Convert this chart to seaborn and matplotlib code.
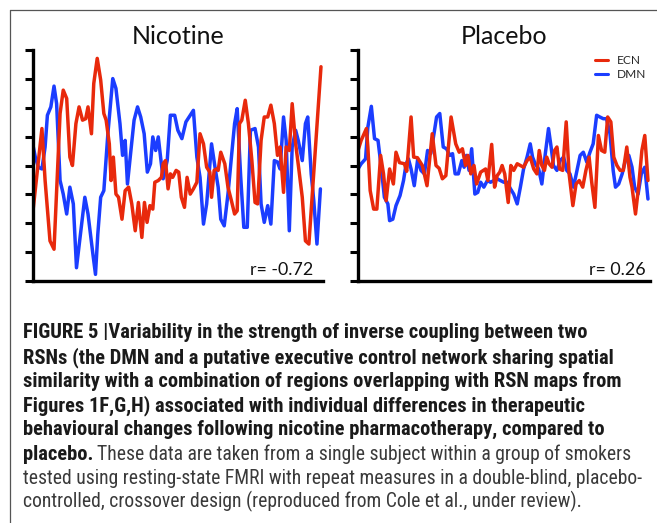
import numpy as np
import pandas as pd
import matplotlib
matplotlib.use("Agg")
import matplotlib.pyplot as plt
import seaborn as sns
from matplotlib.lines import Line2D
from matplotlib import font_manager as fm

# ---------------- data (arbitrary units) ----------------
nic_ecn_t = [0, 3.1, 4.2, 5.9, 7.3, 9.4, 10.5, 11.7, 12.8, 13.7, 14.9, 16.0, 17.2, 18.3, 19.1, 20.3,
             21.1, 22.3, 23.5, 24.6, 25.4, 26.5, 27.1, 27.9, 28.8, 29.7, 30.9, 32.0, 33.2, 34.3, 35.5,
             36.6, 37.8, 38.7, 39.6, 40.6, 41.6, 42.3, 43.5, 44.6, 45.2, 46.0, 46.9, 47.7, 48.5, 49.7,
             50.6, 51.5, 52.6, 53.5, 54.6, 55.7, 56.9, 58.0, 59.2, 60.3, 61.4, 62.0, 62.9, 63.7, 64.3,
             65.2, 66.6, 67.7, 68.9, 70.0, 70.9, 71.7, 72.5, 73.7, 74.8, 76.0, 77.1, 78.0, 79.2, 80.3,
             81.5, 82.6, 83.8, 84.9, 85.8, 87.0, 87.9, 89.0, 90.0, 91.2, 92.3, 93.5, 94.6, 95.8, 100]
nic_ecn_v = [-1.57, 1.28, -0.52, -2.61, -2.90, 1.80, 2.61, 2.32, 0.29, 0.00, 1.45, 2.03, 1.57, 1.62, 2.03, 1.10,
             2.84, 3.71, 2.96, 1.80, 1.57, 0.75, -0.52, 0.29, -0.99, -1.10, -1.86, -0.87, -0.75, -1.33, -2.26,
             -1.28, -2.49, -1.28, -1.97, -1.39, -1.51, -0.58, -0.52, -0.41, 0.06, 0.17, -0.81, -0.29, -0.41, -0.17,
             -0.23, -1.10, -1.45, -0.41, -0.99, -0.81, -0.58, 1.10, 0.75, -0.06, -0.23, -1.10, -0.17, -0.12, -0.17,
             0.46, 0.06, -0.75, -1.22, -1.68, -1.57, 1.45, 1.57, 2.26, 1.45, 0.17, -1.28, -1.33, 0.87, 1.68,
             1.68, 2.09, 1.45, 0.35, 0.64, -0.93, 0.64, 0.52, 2.14, 0.75, -0.12, -1.10, -2.61, -2.72, 3.42]

nic_dmn_t = [0, 0.8, 1.9, 3.1, 4.2, 5.0, 6.2, 7.3, 8.2, 9.4, 10.5, 11.7, 12.8, 14.0, 15.1, 16.2, 18.0,
             19.1, 20.8, 21.7, 22.5, 23.5, 24.6, 26.0, 27.7, 28.8, 30.2, 31.1, 32.0, 32.8, 34.0, 35.1,
             36.3, 37.4, 38.6, 39.7, 40.8, 41.6, 42.6, 43.5, 44.3, 45.2, 46.6, 47.7, 49.2, 50.3, 51.7,
             53.1, 54.6, 55.7, 56.9, 58.0, 59.2, 60.3, 62.0, 63.2, 64.3, 65.2, 66.4, 67.7, 68.9, 70.0,
             70.9, 72.1, 73.2, 74.4, 75.5, 77.1, 78.3, 79.2, 80.3, 81.5, 82.6, 83.8, 84.9, 85.8, 87.0,
             87.9, 89.0, 90.0, 91.2, 92.1, 93.5, 94.6, 95.4, 96.6, 97.5, 98.6, 99.8]
nic_dmn_v = [0.70, 0.29, -0.06, -0.12, 0.64, 1.74, 2.03, 2.75, 2.14, -0.52, -0.99, -1.68, -0.75, -1.33, -3.54, -2.61, -1.10,
             -1.68, -3.07, -3.77, -2.38, -1.10, -0.87, 1.10, 3.01, 2.67, 1.45, 0.35, 0.87, -0.64, 0.52, 1.57,
             2.03, 1.68, 1.10, -0.23, 0.06, 0.99, 0.52, 0.99, 0.29, -0.46, 0.17, 1.74, 1.74, 1.22, 0.93,
             1.51, 1.74, 1.91, 0.29, -0.41, -2.03, -1.33, 0.75, -0.06, -0.75, -1.86, -2.09, -0.99, 0.29, 1.45,
             1.97, -0.35, -2.14, -2.14, 1.22, 1.28, 0.64, -1.33, -1.97, -1.39, -2.03, 0.17, 0.12, -0.12, 1.68,
             0.87, -2.26, 0.64, 1.22, 0.87, 0.17, 1.45, 1.68, -0.29, -1.22, -2.72, -0.81]

pla_ecn_t = [0, 1.1, 2.9, 3.4, 4.2, 5.4, 6.5, 7.8, 8.8, 9.7, 10.9, 12.2, 13.1, 14.3, 16.0, 16.8, 18.3,
             19.2, 20.5, 22.2, 23.8, 25.6, 26.9, 28.0, 29.1, 30.3, 32.1, 33.7, 34.9, 36.0, 37.1, 37.9,
             38.9, 40.0, 40.9, 42.3, 44.0, 44.8, 46.1, 47.1, 48.0, 48.9, 49.7, 50.6, 51.8, 52.7, 53.7,
             54.9, 56.0, 57.1, 58.3, 59.4, 60.6, 61.7, 62.5, 63.4, 64.3, 65.1, 65.9, 66.9, 67.8, 68.6,
             69.5, 70.6, 71.8, 72.8, 74.1, 75.2, 76.3, 77.5, 78.6, 79.7, 80.6, 81.7, 82.9, 84.0, 85.1,
             86.1, 87.2, 88.2, 89.3, 90.4, 91.5, 92.7, 93.8, 94.5, 95.7, 96.8, 97.9, 98.9, 100]
pla_ecn_v = [0.52, 0.87, 1.28, 0.64, -0.87, -1.51, -1.51, 0.35, -0.29, -1.22, -0.12, -0.64, 0.46, 0.10, 0.06, -0.20, 1.68,
             0.29, 0.27, 0.00, -0.70, 1.10, 0.00, -0.10, -0.46, -0.35, 1.68, 0.75, 0.46, 0.58, 0.00, 0.35,
             -0.29, 0.00, -0.64, -0.23, -0.12, -0.52, 0.73, -0.75, -0.35, -0.23, 0.00, -0.29, -1.28, 0.00, -0.17,
             0.06, 0.00, -0.06, 0.17, 0.29, -0.12, -0.29, 0.52, 0.00, -0.17, 0.29, 0.06, -0.06, 0.52, 0.64,
             -0.12, -0.17, 1.51, -0.29, -1.39, -0.64, -0.52, -0.75, -0.17, 0.29, -0.58, -1.45, 1.04, 0.52, 0.46,
             1.68, 1.51, 0.29, 0.00, -0.17, -0.17, 0.64, -0.41, -0.75, -1.68, -0.70, 0.52, 1.04, -0.52]

pla_dmn_t = [0, 1.1, 2.6, 3.4, 4.6, 5.7, 6.9, 8.0, 9.1, 10.3, 10.9, 12.0, 13.1, 14.5, 15.7, 16.6, 17.4,
             18.3, 19.4, 20.6, 21.7, 22.9, 24.0, 25.1, 26.3, 27.1, 28.2, 29.4, 30.5, 31.7, 32.6, 33.5,
             34.6, 35.8, 36.6, 37.4, 38.3, 39.2, 40.3, 41.3, 42.3, 43.4, 44.6, 45.7, 46.9, 48.0, 49.1,
             50.3, 51.4, 52.6, 53.7, 54.9, 56.0, 57.1, 58.3, 59.4, 60.2, 61.1, 62.3, 63.4, 64.6, 65.7,
             66.6, 67.4, 68.6, 69.7, 70.9, 72.0, 73.1, 74.3, 75.4, 76.6, 77.7, 78.9, 80.0, 81.1, 82.3,
             83.4, 84.6, 85.7, 86.9, 88.0, 88.8, 89.9, 91.1, 92.2, 93.4, 94.5, 95.4, 96.6, 97.7, 98.9, 100]
pla_dmn_v = [-0.12, 0.06, 0.23, 1.33, 2.05, 0.93, 0.87, -0.06, -1.10, -1.33, -1.91, -1.86, -1.39, -1.04, -0.52, 0.06, 0.23,
             -0.12, -0.70, 0.23, -0.17, -0.29, 0.52, 0.41, 1.16, 1.68, 1.80, 0.64, 0.58, 0.35, 0.41, -0.29,
             -0.29, 0.17, -0.06, 0.35, -0.17, 0.58, -0.99, -0.93, -0.58, -0.75, -0.52, -0.58, -0.52, -0.46, -0.52,
             -0.58, -0.58, -0.81, -0.99, -1.33, -0.75, -0.12, 0.29, 0.75, 0.29, 0.06, -0.12, -0.64, 0.41, 1.28,
             0.64, 0.00, -0.17, 0.17, 0.29, -0.17, -0.29, -0.75, -0.23, 0.35, 0.46, 0.12, 0.46, 0.75, 1.74,
             1.68, 1.62, 1.62, 1.10, -0.17, -0.75, -0.64, -0.29, 0.17, 0.35, -0.06, -0.75, -0.99, -0.29, -0.06, -1.16]

panel_titles = ["Nicotine", "Placebo"]
r_labels = ["r= -0.72", "r= 0.26"]
series_names = ["ECN", "DMN"]
y_ticks = [-4, -3, -2, -1, 0, 1, 2, 3, 4]

caption_bold = [
    "FIGURE 5 |Variability in the strength of inverse coupling between two",
    "RSNs (the DMN and a putative executive control network sharing spatial",
    "similarity with a combination of regions overlapping with RSN maps from",
    "Figures 1F,G,H) associated with individual differences in therapeutic",
    "behavioural changes following nicotine pharmacotherapy, compared to",
]
caption_mixed = ("placebo.", "These data are taken from a single subject within a group of smokers")
caption_regular = [
    "tested using resting-state FMRI with repeat measures in a double-blind, placebo-",
    "controlled, crossover design (reproduced from Cole et al., under review).",
]

RED = "#E8290C"
BLUE = "#1B3DFF"

# ---------------- figure ----------------
sns.set_style("ticks")
plt.rcParams["font.family"] = ["Lato", "DejaVu Sans"]

W, H = 657, 523
fig = plt.figure(figsize=(W / 100, H / 100), dpi=100)
fig.patch.set_facecolor("white")

ax1 = fig.add_axes([33 / W, 1 - 281 / H, 290 / W, 231 / H])
ax2 = fig.add_axes([358 / W, 1 - 281 / H, 292 / W, 231 / H])

panels = [
    (ax1, nic_ecn_t, nic_ecn_v, nic_dmn_t, nic_dmn_v, 0.968),
    (ax2, pla_ecn_t, pla_ecn_v, pla_dmn_t, pla_dmn_v, 0.984),
]

for i, (ax, et, ev, dt, dv, rx) in enumerate(panels):
    df_e = pd.DataFrame({"t": et, "v": ev})
    df_d = pd.DataFrame({"t": dt, "v": dv})
    sns.lineplot(data=df_d, x="t", y="v", ax=ax, color=BLUE, lw=2.5, estimator=None,
                 label=series_names[1])
    sns.lineplot(data=df_e, x="t", y="v", ax=ax, color=RED, lw=2.5, estimator=None,
                 label=series_names[0])
    ax.set_xlim(0, 100.7)
    ax.set_ylim(-4, 4)
    ax.set_yticks(y_ticks)
    ax.set_yticklabels([])
    ax.set_xticks([])
    ax.set_xlabel("")
    ax.set_ylabel("")
    for s in ["top", "right"]:
        ax.spines[s].set_visible(False)
    for s in ["left", "bottom"]:
        ax.spines[s].set_linewidth(2.4)
        ax.spines[s].set_color("black")
    ax.tick_params(axis="y", length=6, width=2.2, color="black", direction="out")
    ax.set_title(panel_titles[i], fontsize=18, pad=4, color="#111111")
    ax.text(rx, 0.025, r_labels[i], transform=ax.transAxes, ha="right", va="baseline",
            fontsize=12.8, color="#111111")
    leg = ax.get_legend()
    if leg is not None:
        leg.remove()

handles = [Line2D([0], [0], color=RED, lw=2.2), Line2D([0], [0], color=BLUE, lw=2.2)]
ax2.legend(handles, series_names, loc="upper right", frameon=False, fontsize=8.6,
           handlelength=1.15, handletextpad=0.75, labelspacing=0.3, borderaxespad=0.0,
           bbox_to_anchor=(1.005, 1.0))

# page frame lines
fig.add_artist(Line2D([9.5 / W, 9.5 / W], [0, 1 - 9.5 / H], transform=fig.transFigure,
                      color="#555555", lw=0.9))
fig.add_artist(Line2D([9.5 / W, 1], [1 - 9.5 / H, 1 - 9.5 / H], transform=fig.transFigure,
                      color="#555555", lw=0.9))

# ---------------- caption ----------------
# choose a narrow font if one is installed, otherwise a compact sans
names = {f.name for f in fm.fontManager.ttflist}
preferred = ["Liberation Sans Narrow", "Arial Narrow", "Roboto Condensed", "Open Sans Condensed",
             "Noto Sans Condensed", "DejaVu Sans Condensed"]
cap_font = None
cap_stretch = "normal"
for n in preferred:
    if n in names:
        cap_font = n
        break
if cap_font is None:
    extra = sorted(n for n in names if ("Narrow" in n or "Condensed" in n))
    if extra:
        cap_font = extra[0]
if cap_font is None:
    for f in fm.fontManager.ttflist:
        if str(f.stretch) in ("condensed", "semi-condensed", "extra-condensed") and \
                f.name in ("Noto Sans", "Open Sans", "Roboto", "Inter", "DejaVu Sans"):
            cap_font = f.name
            cap_stretch = "condensed"
            break
if cap_font is None:
    cap_font = "Roboto"
cap_family = [cap_font, "DejaVu Sans"]

renderer = fig.canvas.get_renderer()


def fitted_size(text, weight, target_px, cap):
    probe = fig.text(0, 0, text, family=cap_family, fontsize=13, weight=weight,
                     fontstretch=cap_stretch)
    pw = probe.get_window_extent(renderer=renderer).width
    probe.remove()
    return min(cap, 13 * target_px / pw)


bold_size = fitted_size(caption_bold[0], "bold", 580, 14.8)
reg_size = fitted_size(caption_regular[0], "normal", 618, 14.8)

x0 = 23 / W
baselines = [338.5, 363, 387, 411, 435, 459.5, 483.5, 507]
kw = dict(family=cap_family, va="baseline", ha="left", fontstretch=cap_stretch)
for j, line in enumerate(caption_bold):
    fig.text(x0, 1 - baselines[j] / H, line, weight="bold", color="#1a1a1a",
             fontsize=bold_size, **kw)
tb = fig.text(x0, 1 - baselines[5] / H, caption_mixed[0], weight="bold", color="#1a1a1a",
              fontsize=bold_size, **kw)
bb = tb.get_window_extent(renderer=renderer)
fig.text((bb.x1 + 4) / W, 1 - baselines[5] / H, caption_mixed[1], color="#3a3a3a",
         fontsize=reg_size, **kw)
for j, line in enumerate(caption_regular):
    fig.text(x0, 1 - baselines[6 + j] / H, line, color="#3a3a3a", fontsize=reg_size, **kw)

fig.savefig("out.png", dpi=100, facecolor="white")
